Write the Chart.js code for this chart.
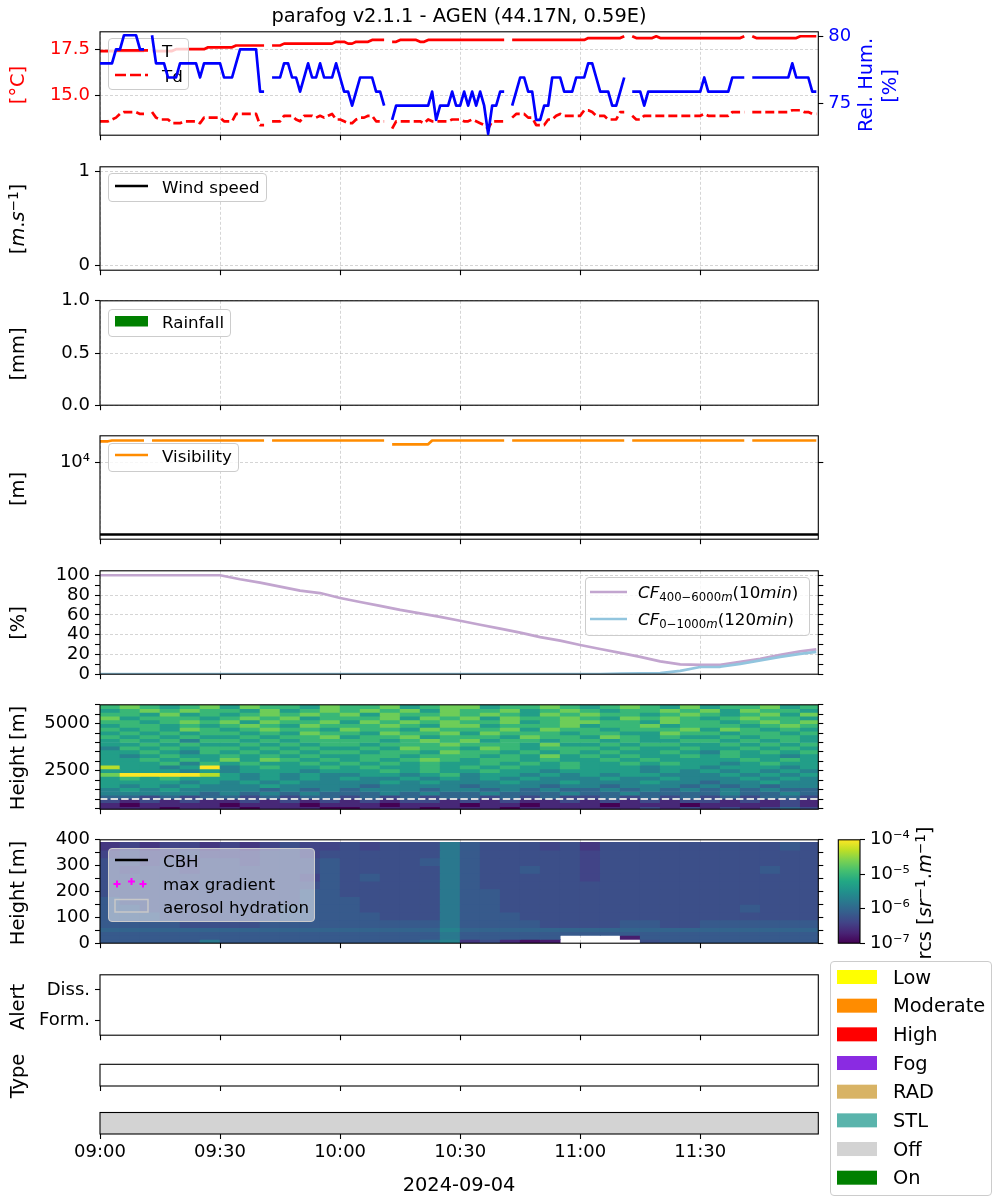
<!DOCTYPE html>
<html>
<head>
<meta charset="utf-8">
<title>parafog v2.1.1 - AGEN</title>
<script src="https://cdn.jsdelivr.net/npm/chart.js@4.4.1/dist/chart.umd.min.js"></script>
<style>
html,body{margin:0;padding:0;background:#fff;}
#wrap{position:relative;width:1000px;height:1200px;overflow:hidden;font-family:'DejaVu Sans',sans-serif;color:#000;background:#fff;}
#wrap canvas{position:absolute;z-index:1;}
.t{position:absolute;white-space:nowrap;line-height:1;}
.box{position:absolute;box-sizing:border-box;border:1px solid #cccccc;border-radius:4px;z-index:2;}
#samples{position:absolute;left:0;top:0;z-index:3;pointer-events:none;}
sup{font-size:70%;vertical-align:0.45em;line-height:0;}
sub{font-size:70%;vertical-align:-0.25em;line-height:0;}
</style>
</head>
<body>
<div id="wrap"></div>
<script>
// ================= DATA =================
const titleText = 'parafog v2.1.1 - AGEN (44.17N, 0.59E)';
const dateLabel = '2024-09-04';
// time axis in minutes after 09:00, one observation per minute
const obsStepMin = 1;
const xMaxMin = 179.5;
const xTickVals = [0, 30, 60, 90, 120, 150];
const xTickLabels = ['09:00', '09:30', '10:00', '10:30', '11:00', '11:30'];

const tempC = [
17.4,17.4,17.4,17.4,17.4,17.4,17.4,17.4,17.4,17.4,
17.4,17.4,null,17.4,17.4,17.4,17.4,17.4,17.4,17.5,
17.5,17.5,17.5,17.5,17.5,17.5,17.5,17.6,17.6,17.6,
17.6,17.6,17.6,17.6,17.7,17.7,17.7,17.7,17.7,17.7,
17.7,17.7,null,17.7,17.7,17.7,17.8,17.8,17.8,17.8,
17.8,17.8,17.8,17.8,17.8,17.8,17.8,17.8,17.8,17.9,
17.9,17.9,17.8,17.8,17.9,17.9,17.9,17.9,18.0,18.0,
18.0,18.0,null,17.9,17.9,18.0,18.0,18.0,18.0,18.0,
17.9,17.9,18.0,18.0,18.0,18.0,18.0,18.0,18.0,18.0,
18.0,18.0,18.0,18.0,18.0,18.0,18.0,18.0,18.0,18.0,
18.0,18.0,null,18.0,18.0,18.0,18.0,18.0,18.0,18.0,
18.0,18.0,18.0,18.0,18.0,18.0,18.0,18.0,18.0,18.0,
18.0,18.0,18.1,18.1,18.1,18.1,18.1,18.1,18.1,18.1,
18.1,18.2,null,18.2,18.1,18.1,18.1,18.1,18.1,18.2,
18.1,18.1,18.1,18.1,18.1,18.1,18.1,18.1,18.1,18.1,
18.1,18.1,18.1,18.1,18.1,18.1,18.1,18.1,18.1,18.1,
18.1,18.2,null,18.2,18.1,18.1,18.1,18.1,18.1,18.1,
18.1,18.1,18.1,18.1,18.1,18.2,18.2,18.2,18.2,18.2];

const dewC = [
13.6,13.6,13.6,13.7,13.8,14.0,14.1,14.1,14.1,14.1,
14.0,14.0,null,14.1,13.8,13.7,13.7,13.7,13.5,13.5,
13.5,13.6,13.6,13.6,13.6,13.5,13.8,13.8,13.8,13.8,
13.8,13.6,13.6,13.6,14.0,14.0,14.0,14.0,14.0,14.0,
13.4,13.4,null,13.6,13.6,13.6,13.9,13.9,13.9,13.7,
13.6,13.9,13.9,13.9,13.8,13.9,13.8,13.9,14.0,13.7,
13.7,13.6,13.5,13.5,13.7,13.8,13.8,13.9,13.9,13.6,
13.6,13.6,null,13.2,13.6,13.6,13.6,13.6,13.6,13.6,
13.6,13.5,13.7,13.6,13.6,13.6,13.6,13.6,13.7,13.7,
13.7,13.6,13.6,13.7,13.6,13.5,13.4,13.2,13.6,13.6,
13.6,13.6,null,13.8,14.0,14.0,14.0,13.8,13.8,13.4,
13.4,13.4,13.7,13.7,13.9,14.0,13.9,13.9,13.9,13.9,
13.9,14.2,14.2,14.1,13.9,13.9,13.9,13.7,13.7,13.7,
14.1,14.1,null,13.9,13.7,13.7,13.9,13.9,13.9,13.9,
13.9,13.9,13.9,13.9,13.9,13.9,13.9,13.9,13.9,13.9,
13.9,14.0,13.9,13.9,13.9,13.9,13.9,13.9,14.1,14.1,
14.1,14.1,null,14.1,14.1,14.1,14.1,14.1,14.1,14.1,
14.1,14.1,14.1,14.2,14.2,14.2,14.1,14.1,14.0,14.0];

const relHum = [
78,78,78,78,79,79,80,80,80,80,
79,79,null,80,78,78,78,77,77,77,
78,78,78,78,78,77,78,78,78,78,
78,77,77,77,78,79,79,79,79,79,
76,76,null,77,77,77,78,78,77,77,
76,77,78,77,77,78,77,77,77,78,
77,76,76,75,76,77,77,77,77,76,
76,75,null,74,75,75,75,75,75,75,
75,75,75,76,74,75,75,75,76,75,
75,76,75,76,75,76,75,73,75,75,
76,76,null,75,76,77,77,76,76,74,
74,75,75,77,77,77,76,76,76,77,
77,77,78,78,77,76,76,76,75,75,
76,77,null,76,76,76,75,76,76,76,
76,76,76,76,76,76,76,76,76,76,
76,77,76,76,76,76,76,76,77,77,
77,77,null,77,77,77,77,77,77,77,
77,77,77,78,77,77,77,77,76,76];

const tempTickVals = [15, 17.5];
const tempTickLabels = ['15.0', '17.5'];
const rhTickVals = [75, 80];
const rhTickLabels = ['75', '80'];

const windSpeed = [];          // no wind data in the period
const windTickVals = [0, 1];
const windTickLabels = ['0', '1'];

const rainfall = [];           // no rain in the period
const rainTickVals = [0, 0.5, 1];
const rainTickLabels = ['0.0', '0.5', '1.0'];

const visibility = [
19500,19500,19500,20000,20000,20000,20000,20000,20000,20000,
20000,20000,null,20000,20000,20000,20000,20000,20000,20000,
20000,20000,20000,20000,20000,20000,20000,20000,20000,20000,
20000,20000,20000,20000,20000,20000,20000,20000,20000,20000,
20000,20000,null,20000,20000,20000,20000,20000,20000,20000,
20000,20000,20000,20000,20000,20000,20000,20000,20000,20000,
20000,20000,20000,20000,20000,20000,20000,20000,20000,20000,
20000,20000,null,17700,17700,17700,17700,17700,17700,17700,
17700,17700,17700,20000,20000,20000,20000,20000,20000,20000,
20000,20000,20000,20000,20000,20000,20000,20000,20000,20000,
20000,20000,null,20000,20000,20000,20000,20000,20000,20000,
20000,20000,20000,20000,20000,20000,20000,20000,20000,20000,
20000,20000,20000,20000,20000,20000,20000,20000,20000,20000,
20000,20000,null,20000,20000,20000,20000,20000,20000,20000,
20000,20000,20000,20000,20000,20000,20000,20000,20000,20000,
20000,20000,20000,20000,20000,20000,20000,20000,20000,20000,
20000,20000,null,20000,20000,20000,20000,20000,20000,20000,
20000,20000,20000,20000,20000,20000,20000,20000,20000,20000];
const visThreshold = 1000;
const visTickVals = [10000];
const visTickLabels = ['10\u2074'];

const cfTimes = [0,5,10,15,20,25,30,35,40,45,50,55,60,65,70,75,80,85,90,95,100,105,110,115,120,125,130,135,140,145,150,155,160,165,170,175,179];
const cfHigh  = [100,100,100,100,100,100,100,96,92.5,88.5,84.5,82,77,73,69,65,61.5,58,54,50,46,42,37.5,34,29.5,25.5,21.5,17.5,13,10,9.5,9.5,12.5,15.5,19.5,23,25];
const cfLow   = [0,0,0,0,0,0,0,0,0,0,0,0,0,0,0,0,0,0,0,0,0,0,0,0,0,0,0.5,0.8,1,3.4,7.3,7.5,10.5,14,17.5,20.5,22.5];
const cfTickVals = [0,10,20,30,40,50,60,70,80,90,100];
const cfLabelVals = [0,20,40,60,80,100];
const cfTickLabels = ['0','20','40','60','80','100'];

// backscatter (rcs) grids: one character per 5-minute column, level 0..1 of log10(rcs) between 1e-7 and 1e-4
// digits: level = d/9 ; letters: level = (letter - 'a')/25 ; '.' = no data
const heatColStart = [0,5,10,15,20,25,30,35,40,45,50,55,60,65,70,75,80,85,90,95,100,105,110,115,120,125,130,135,140,145,150,155,160,165,170,175];
const heatColWidth = 5;
const upperRowEdges = [6000,5800,5600,5400,5200,5000,4800,4600,4400,4200,4000,3800,3600,3400,3200,3000,2800,2600,2400,2200,2000,1800,1600,1400,1200,1000,800,600,400];
const upperLevels = [
'676567 576657 667567 756676 567657 566756',
'567676 657567 676757 667567 656676 757665',
'665756 567676 757667 676576 766567 656757',
'756665 676756 667576 757667 657676 567665',
'665676 757667 576767 667567 766576 656767',
'566565 676576 667657 756667 566756 665676',
'656576 567665 766576 667576 656667 576565',
'565656 656576 657667 576665 665576 656656',
'656565 565667 566756 665766 576565 565665',
'565646 656566 665676 756656 656556 656565',
'556565 565656 656667 666575 565665 565656',
'465656 656565 565766 576566 656556 556565',
'556546 565656 656657 665656 565565 465656',
'545655 656565 566566 656575 656556 565545',
'556565 757656 565676 566565 565655 556565',
'555646 565565 656565 565656 556565 545655',
'855459 456556 565565 656556 555455 455545',
'555545 455545 556565 565545 555454 545454',
'799998 545454 455456 455454 545544 454545',
'565655 545454 544545 454544 454454 445454',
'555545 454544 445454 445445 444544 344544',
'545454 445444 434444 344434 434443 434344',
'454544 443434 344434 434343 343434 343433',
'444443 434343 334343 343334 334333 343343',
'332323 323233 232323 323232 232323 232332',
'212121 121212 121221 212112 121212 212121',
'101111 011101 110111 011011 101110 111121',
'111011 101110 011101 110111 111212 121232'];
const upperTickVals = [500,1000,1500,2000,2500,3000,3500,4000,4500,5000,5500,6000];
const upperLabelVals = [2500, 5000];
const upperTickLabels = ['2500', '5000'];
const cfLowTopHeight = 1000;   // dashed line: top of the 0-1000 m cloud-fraction layer

const lowerRowEdges = [390,360,330,300,270,240,210,180,150,120,90,60,45,30,15,0];
const lowerLevels = [
'efeffe fefgff gfgggk hgggfg eggggg gggghg',
'fgffgf ffggfg gggggk hggggg fggggg gggggg',
'ggfgfg gfgggh gggghk hggggg fggggg gggggg',
'gfggfg gggggh gggggk hgghgg fggggg ggghgg',
'gggggg ggggfh ghgggk hggggg fggggg gggggg',
'gggggg gggggh gggggk hggggg gggggg gggggg',
'gggggg gggghh gggggk hhgggg gggggg gggggg',
'hggggg gggghh hggggk hhgggg gggggg gggggg',
'hhgggg ggghhh hggggk hhgggg gggggg gghggg',
'hhhggg ggghhh hhgggk hhhggg gggggg gggggg',
'hhhhgg gghhhh hhhhhk hhhhgg gghhgg hhhhhh',
'iiiiii iiiiii iiiiil iiiiii iiiiii iiiiii',
'hhhhhh hhhhhh hhhhhk hhhhhh hhhhhh hhhhhh',
'hhhhhh hhhhhh hhhhhk hhhhh. ..chhh hhhhhh',
'hhhhhk hhhhhh hhhhjl egdbc. ...ghh hhhhhh'];
const lowerTickVals = [0,50,100,150,200,250,300,350,400];
const lowerLabelVals = [0,100,200,300,400];
const lowerTickLabels = ['0','100','200','300','400'];

const rcsMin = 1e-7, rcsMax = 1e-4;
const cbTickVals = [1e-7, 1e-6, 1e-5, 1e-4];
const cbTickLabels = ['10\u207B\u2077', '10\u207B\u2076', '10\u207B\u2075', '10\u207B\u2074'];

const alertTickVals = [0, 1];
const alertTickLabels = ['Form.', 'Diss.'];

const statusStart = [0];
const statusEnd = [179.5];
const statusState = ['Off'];

const classNames = ['Low', 'Moderate', 'High', 'Fog', 'RAD', 'STL', 'Off', 'On'];

// ================= STYLE =================
const classColors = {Low:'#ffff00', Moderate:'#ff8c00', High:'#ff0000', Fog:'#8a2be2', RAD:'#d8b365', STL:'#5ab4ac', Off:'#d3d3d3', On:'#008000'};
const VIR = ['#440154','#482475','#414487','#355f8d','#2a788e','#21918c','#22a884','#44bf70','#7ad151','#bddf26','#fde725'];
const GRID = 'rgba(176,176,176,0.6)';
const DASH = [3, 2];
const FONT = "'DejaVu Sans', sans-serif";
const PLOT_L = 100, PLOT_R = 818.3, W = 1000;
const RIGHT_W = W - PLOT_R;

Chart.defaults.font.family = FONT;
Chart.defaults.font.size = 18;
Chart.defaults.color = '#000';

const wrap = document.getElementById('wrap');

function hexRgb(h){ return [parseInt(h.slice(1,3),16), parseInt(h.slice(3,5),16), parseInt(h.slice(5,7),16)]; }
function viridis(t){
  t = Math.max(0, Math.min(1, t));
  const p = t * 10, i = Math.min(9, Math.floor(p)), f = p - i;
  const a = hexRgb(VIR[i]), b = hexRgb(VIR[i+1]);
  return 'rgb(' + a.map((v,k) => Math.round(v + (b[k]-v)*f)).join(',') + ')';
}
function rcsOf(ch){
  let lev;
  if (ch === '.') return null;
  if (ch >= '0' && ch <= '9') lev = (+ch) / 9; else lev = (ch.charCodeAt(0) - 97) / 25;
  return Math.pow(10, Math.log10(rcsMin) + lev * (Math.log10(rcsMax) - Math.log10(rcsMin)));
}
function rcsColor(v){ return viridis((Math.log10(v) - Math.log10(rcsMin)) / (Math.log10(rcsMax) - Math.log10(rcsMin))); }

const pts = arr => arr.map((v, i) => ({x: i * obsStepMin, y: v}));

// ---------- canvases ----------
function makeCanvas(top, H, padB, left = 0, width = W){
  const padT = 14;
  const cTop = Math.floor(top) - padT;
  const padTop = top - cTop;
  const cH = Math.ceil(padTop + H + padB);
  const padBottom = cH - padTop - H;
  const cv = document.createElement('canvas');
  cv.width = width; cv.height = cH;
  cv.style.left = left + 'px'; cv.style.top = cTop + 'px';
  cv.style.width = width + 'px'; cv.style.height = cH + 'px';
  wrap.appendChild(cv);
  return {cv, padTop, padBottom};
}

const framePlugin = {id:'frame', afterDraw(c){
  const a = c.chartArea, x = c.ctx;
  x.save(); x.strokeStyle = '#000'; x.lineWidth = 1.1;
  x.strokeRect(a.left, a.top, a.right - a.left, a.bottom - a.top); x.restore();
}};

function baseOptions(pad){
  return {responsive:false, animation:false, events:[], layout:{padding:pad},
          plugins:{legend:{display:false}, tooltip:{enabled:false}}};
}

function xAxis(padBottom, showLabels, showGrid, z){
  return {
    type:'linear', position:'bottom', min:0, max:xMaxMin, offset:false, z: z || 0,
    afterBuildTicks: s => { s.ticks = xTickVals.map(v => ({value:v})); },
    afterFit: s => { s.height = padBottom; },
    ticks:{display:showLabels, autoSkip:false, maxRotation:0, minRotation:0, padding:3, font:{size:18},
           callback: v => xTickLabels[xTickVals.indexOf(v)]},
    grid:{display:true, offset:false, drawOnChartArea:showGrid, color:GRID, lineWidth:0.9,
          drawTicks:true, tickLength:5, tickColor:'#000', tickWidth:1.1},
    border:{display:false, dash:DASH}
  };
}

function yAxis(o){
  const lv = o.labelVals || [], lb = o.labels || [], gv = o.gridVals || [];
  return {
    type:o.type || 'linear', position:o.pos || 'left', min:o.min, max:o.max, z: o.z || 0,
    afterBuildTicks: s => { s.ticks = o.ticks.map(v => ({value:v})); },
    afterFit: s => { s.width = o.width; },
    ticks:{display:true, autoSkip:false, padding:5, color:o.color || '#000', font:{size:18},
           callback: v => { const i = lv.indexOf(v); return i >= 0 ? lb[i] : ''; }},
    grid:{display:true, drawOnChartArea: gv.length > 0,
          color: ctx => (ctx.tick && gv.indexOf(ctx.tick.value) >= 0) ? GRID : 'rgba(0,0,0,0)',
          lineWidth:0.9, drawTicks:true, tickLength:5, tickColor:'#000', tickWidth:1.1},
    border:{display:false, dash:DASH}
  };
}

const lineDs = (data, color, extra) => Object.assign({type:'line', data, borderColor:color, borderWidth:2.7,
  pointRadius:0, tension:0, spanGaps:false, borderJoinStyle:'round', clip:0}, extra || {});

// ---------- panel geometry ----------
const P = {
  met:  [30.3, 108.5], wind: [165, 108.5], rain: [299.7, 108.5], vis: [434.4, 108.5],
  cf:   [569.1, 108.5], hi:  [703.8, 108.5], lo:  [838.5, 108.5],
  alert:[973.3, 64.8], type:[1064.3, 21.7], stat:[1112.5, 21.5]
};

// 1) T / Td / RH
let g = makeCanvas(P.met[0], P.met[1], 12);
new Chart(g.cv, {type:'line',
  data:{datasets:[
    lineDs(pts(tempC), '#ff0000', {yAxisID:'y', order:1}),
    lineDs(pts(dewC), '#ff0000', {yAxisID:'y', borderDash:[9,4], order:0})]},
  options:Object.assign(baseOptions({top:g.padTop, bottom:0, left:0, right:0}), {scales:{
    x: xAxis(g.padBottom, false, true),
    y: yAxis({min:12.85, max:18.44, ticks:tempTickVals, labelVals:tempTickVals, labels:tempTickLabels, gridVals:tempTickVals, color:'#ff0000', width:PLOT_L}),
    y2: yAxis({pos:'right', min:72.65, max:80.35, ticks:rhTickVals, labelVals:rhTickVals, labels:rhTickLabels, color:'#0000ff', width:RIGHT_W})
  }}), plugins:[framePlugin]});

// 2) wind
g = makeCanvas(P.wind[0], P.wind[1], 12);
new Chart(g.cv, {type:'line',
  data:{datasets:[lineDs(pts(windSpeed), '#000000')]},
  options:Object.assign(baseOptions({top:g.padTop, bottom:0, left:0, right:RIGHT_W}), {scales:{
    x: xAxis(g.padBottom, false, true),
    y: yAxis({min:-0.05, max:1.05, ticks:windTickVals, labelVals:windTickVals, labels:windTickLabels, gridVals:windTickVals, width:PLOT_L})
  }}), plugins:[framePlugin]});

// 3) rainfall
g = makeCanvas(P.rain[0], P.rain[1], 12);
new Chart(g.cv, {type:'bar',
  data:{datasets:[{data:pts(rainfall), backgroundColor:'#008000'}]},
  options:Object.assign(baseOptions({top:g.padTop, bottom:0, left:0, right:RIGHT_W}), {scales:{
    x: xAxis(g.padBottom, false, true),
    y: yAxis({min:0, max:1, ticks:rainTickVals, labelVals:rainTickVals, labels:rainTickLabels, gridVals:rainTickVals, width:PLOT_L})
  }}), plugins:[framePlugin]});

// 4) visibility
g = makeCanvas(P.vis[0], P.vis[1], 12);
new Chart(g.cv, {type:'line',
  data:{datasets:[
    lineDs(pts(visibility), '#ff8c00', {order:1}),
    lineDs([{x:0, y:visThreshold}, {x:xMaxMin, y:visThreshold}], '#000000', {order:0})]},
  options:Object.assign(baseOptions({top:g.padTop, bottom:0, left:0, right:0}), {scales:{
    x: xAxis(g.padBottom, false, true),
    y: yAxis({type:'logarithmic', min:861, max:23230, ticks:visTickVals, labelVals:visTickVals, labels:visTickLabels, gridVals:visTickVals, width:PLOT_L}),
    y2: yAxis({type:'logarithmic', pos:'right', min:861, max:23230, ticks:visTickVals, width:RIGHT_W})
  }}), plugins:[framePlugin]});

// 5) cloud fraction
g = makeCanvas(P.cf[0], P.cf[1], 12);
new Chart(g.cv, {type:'line',
  data:{datasets:[
    lineDs(cfTimes.map((t,i) => ({x:t, y:cfHigh[i]})), '#c2a5cf', {order:1}),
    lineDs(cfTimes.map((t,i) => ({x:t, y:cfLow[i]})), '#92c5de', {order:0})]},
  options:Object.assign(baseOptions({top:g.padTop, bottom:0, left:0, right:0}), {scales:{
    x: xAxis(g.padBottom, false, true),
    y: yAxis({min:0, max:104.5, ticks:cfTickVals, labelVals:cfLabelVals, labels:cfTickLabels, gridVals:[20,40,60,80,100], width:PLOT_L}),
    y2: yAxis({pos:'right', min:0, max:104.5, ticks:cfTickVals, width:RIGHT_W})
  }}), plugins:[framePlugin]});

// heatmap datasets (one floating-bar dataset per height row)
function heatDatasets(rowEdges, levelRows){
  return levelRows.map((row, r) => {
    const s = row.replace(/ /g, '');
    const top = rowEdges[r], bot = rowEdges[r+1];
    const data = [], colors = [];
    heatColStart.forEach((c, j) => {
      const v = rcsOf(s[j]);
      data.push({x: c + heatColWidth / 2, y: v === null ? null : [bot, top]});
      colors.push(v === null ? 'rgba(0,0,0,0)' : rcsColor(v));
    });
    return {type:'bar', data, backgroundColor:colors, borderWidth:0, grouped:false,
            barPercentage:1, categoryPercentage:1, order:5};
  });
}

// 6) backscatter 0-6000 m
g = makeCanvas(P.hi[0], P.hi[1], 12);
new Chart(g.cv, {type:'bar',
  data:{datasets: heatDatasets(upperRowEdges, upperLevels).concat([
    lineDs([{x:0, y:cfLowTopHeight}, {x:xMaxMin, y:cfLowTopHeight}], 'rgba(225,225,225,0.95)', {borderWidth:2, borderDash:[7.4,3.2], order:0})])},
  options:Object.assign(baseOptions({top:g.padTop, bottom:0, left:0, right:0}), {scales:{
    x: xAxis(g.padBottom, false, true, 1),
    y: yAxis({min:460, max:6000, ticks:upperTickVals, labelVals:upperLabelVals, labels:upperTickLabels, gridVals:upperLabelVals, width:PLOT_L, z:1}),
    y2: yAxis({pos:'right', min:460, max:6000, ticks:upperTickVals, width:RIGHT_W, z:1})
  }}), plugins:[framePlugin]});

// 7) backscatter 0-400 m
g = makeCanvas(P.lo[0], P.lo[1], 12);
new Chart(g.cv, {type:'bar',
  data:{datasets: heatDatasets(lowerRowEdges, lowerLevels)},
  options:Object.assign(baseOptions({top:g.padTop, bottom:0, left:0, right:0}), {scales:{
    x: xAxis(g.padBottom, false, true, 1),
    y: yAxis({min:0, max:400, ticks:lowerTickVals, labelVals:lowerLabelVals, labels:lowerTickLabels, gridVals:[100,200,300], width:PLOT_L, z:1}),
    y2: yAxis({pos:'right', min:0, max:400, ticks:lowerTickVals, width:RIGHT_W, z:1})
  }}), plugins:[framePlugin]});

// colorbar
g = makeCanvas(P.lo[0], P.lo[1], 12, 800, 200);
const cbPlugin = {id:'cb', beforeDatasetsDraw(c){
  const a = c.chartArea, x = c.ctx;
  const gr = x.createLinearGradient(0, a.bottom, 0, a.top);
  VIR.forEach((col, i) => gr.addColorStop(i / (VIR.length - 1), col));
  x.save(); x.fillStyle = gr; x.fillRect(a.left, a.top, a.right - a.left, a.bottom - a.top); x.restore();
}};
new Chart(g.cv, {type:'scatter', data:{datasets:[]},
  options:Object.assign(baseOptions({top:g.padTop, bottom:g.padBottom, left:838.3 - 800, right:0}), {scales:{
    x: {type:'linear', display:false, min:0, max:1},
    y: yAxis({type:'logarithmic', pos:'right', min:rcsMin, max:rcsMax, ticks:cbTickVals, labelVals:cbTickVals, labels:cbTickLabels, width:200 - 60})
  }}), plugins:[cbPlugin, framePlugin]});

// 8) alert
g = makeCanvas(P.alert[0], P.alert[1], 12);
new Chart(g.cv, {type:'line', data:{datasets:[]},
  options:Object.assign(baseOptions({top:g.padTop, bottom:0, left:0, right:RIGHT_W}), {scales:{
    x: xAxis(g.padBottom, false, false),
    y: yAxis({min:-0.5, max:1.5, ticks:alertTickVals, labelVals:alertTickVals, labels:alertTickLabels, width:PLOT_L})
  }}), plugins:[framePlugin]});

// 9) type
g = makeCanvas(P.type[0], P.type[1], 12);
new Chart(g.cv, {type:'line', data:{datasets:[]},
  options:Object.assign(baseOptions({top:g.padTop, bottom:0, left:PLOT_L, right:RIGHT_W}), {scales:{
    x: xAxis(g.padBottom, false, false),
    y: {type:'linear', display:false, min:0, max:1}
  }}), plugins:[framePlugin]});

// 10) status bar
g = makeCanvas(P.stat[0], P.stat[1], 60);
new Chart(g.cv, {type:'bar',
  data:{labels:['status'], datasets:[{
    data: statusStart.map((s, i) => ({x:[s, statusEnd[i]], y:'status'})),
    backgroundColor: statusState.map(s => classColors[s]), borderWidth:0,
    barPercentage:1, categoryPercentage:1}]},
  options:Object.assign(baseOptions({top:g.padTop, bottom:0, left:PLOT_L, right:RIGHT_W}), {indexAxis:'y', scales:{
    x: xAxis(g.padBottom, true, false),
    y: {type:'category', display:false}
  }}), plugins:[framePlugin]});

// ================= text, legends =================
function addText(html, x, y, o){
  o = o || {};
  const d = document.createElement('div');
  d.className = 't';
  d.innerHTML = html;
  const size = o.size || 18;
  d.style.fontSize = size + 'px';
  d.style.color = o.color || '#000';
  d.style.zIndex = o.z || 4;
  d.style.left = x + 'px';
  if (o.align === 'left') {
    d.style.top = (y - size / 2) + 'px';
  } else {
    d.style.top = y + 'px';
    d.style.transform = 'translate(-50%,-50%)' + (o.rot ? ' rotate(-90deg)' : '');
  }
  wrap.appendChild(d);
}
function addBox(x, y, w, h, alpha){
  const d = document.createElement('div');
  d.className = 'box';
  Object.assign(d.style, {left:x+'px', top:y+'px', width:w+'px', height:h+'px', background:'rgba(255,255,255,' + alpha + ')'});
  wrap.appendChild(d);
}
const svgNS = 'http://www.w3.org/2000/svg';
const svg = document.createElementNS(svgNS, 'svg');
svg.setAttribute('width', W); svg.setAttribute('height', 1200); svg.id = 'samples';
wrap.appendChild(svg);
function svgEl(tag, attrs){ const e = document.createElementNS(svgNS, tag); for (const k in attrs) e.setAttribute(k, attrs[k]); svg.appendChild(e); return e; }
function sampleLine(x1, x2, y, color, dash){ svgEl('line', {x1, x2, y1:y, y2:y, stroke:color, 'stroke-width':2.7, 'stroke-dasharray': dash || 'none'}); }

const AX = 19.4, LEG = 16.7;
addText(titleText, 459, 16, {size:19.4});
addText(dateLabel, 459, 1185, {size:AX});

// y-axis labels
addText('[\u00B0C]', 17.5, 84.5, {size:AX, rot:true, color:'#ff0000'});
addText('Rel. Hum.', 866, 85, {size:AX, rot:true, color:'#0000ff'});
addText('[%]', 890, 86, {size:AX, rot:true, color:'#0000ff'});
addText('[<i>m</i>.<i>s</i><sup>\u22121</sup>]', 17.5, 219, {size:AX, rot:true});
addText('[mm]', 17.5, 354, {size:AX, rot:true});
addText('[m]', 17.5, 488.6, {size:AX, rot:true});
addText('[%]', 17.5, 623.4, {size:AX, rot:true});
addText('Height [m]', 17.5, 758, {size:AX, rot:true});
addText('Height [m]', 17.5, 892.8, {size:AX, rot:true});
addText('Alert', 17.5, 1006.5, {size:AX, rot:true});
addText('Type', 17.5, 1075.5, {size:AX, rot:true});
addText('rcs [<i>sr</i><sup>\u22121</sup>.<i>m</i><sup>\u22121</sup>]', 925, 893, {size:AX, rot:true});

// legend: T / Td
addBox(108, 38, 81, 52, 0.8);
sampleLine(115, 148, 50.3, '#ff0000');
sampleLine(115, 148, 75, '#ff0000', '11,4');
addText('T', 162, 51, {size:LEG, align:'left', z:3});
addText('Td', 162, 76, {size:LEG, align:'left', z:3});

// legend: wind
addBox(108, 173, 159, 29, 0.8);
sampleLine(115, 148, 186, '#000000');
addText('Wind speed', 162, 187, {size:LEG, align:'left', z:3});

// legend: rainfall
addBox(108, 309, 123, 28, 0.8);
svgEl('rect', {x:115, y:316, width:33, height:10.5, fill:'#008000'});
addText('Rainfall', 162, 322, {size:LEG, align:'left', z:3});

// legend: visibility
addBox(108, 443, 131, 29, 0.8);
sampleLine(115, 148, 455, '#ff8c00');
addText('Visibility', 162, 456, {size:LEG, align:'left', z:3});

// legend: cloud fraction
addBox(585, 577, 225, 59, 0.8);
sampleLine(590, 627, 592, '#c2a5cf');
sampleLine(590, 627, 619, '#92c5de');
addText('<i>CF</i><sub>400\u22126000<i>m</i></sub>(10<i>min</i>)', 638, 592, {size:LEG, align:'left', z:3});
addText('<i>CF</i><sub>0\u22121000<i>m</i></sub>(120<i>min</i>)', 638, 619, {size:LEG, align:'left', z:3});

// legend: low heatmap
addBox(108, 848, 207, 74, 0.5);
sampleLine(115, 148, 860, '#000000');
[[117, 884], [131.5, 881.5], [143, 884]].forEach(([cx, cy]) => {
  svgEl('line', {x1:cx-3.5, x2:cx+3.5, y1:cy, y2:cy, stroke:'#ff00ff', 'stroke-width':2});
  svgEl('line', {x1:cx, x2:cx, y1:cy-3.5, y2:cy+3.5, stroke:'#ff00ff', 'stroke-width':2});
});
svgEl('rect', {x:115, y:899.5, width:33, height:12.5, fill:'none', stroke:'#c8c8c8', 'stroke-width':1.5});
addText('CBH', 163, 861, {size:LEG, align:'left', z:3});
addText('max gradient', 163, 884.5, {size:LEG, align:'left', z:3});
addText('aerosol hydration', 163, 907, {size:LEG, align:'left', z:3});

// legend: classes
addBox(830, 961, 162, 235, 0.8);
classNames.forEach((n, i) => {
  const cy = 977 + i * 28.67;
  svgEl('rect', {x:837, y:cy - 7, width:40, height:14, fill:classColors[n]});
  addText(n, 893, cy + 0.5, {size:19.4, align:'left', z:3});
});

// RH line drawn on top of the T/Td legend
g = makeCanvas(P.met[0], P.met[1], 12);
g.cv.style.zIndex = 5;
new Chart(g.cv, {type:'line',
  data:{datasets:[lineDs(pts(relHum), '#0000ff', {yAxisID:'y2', xAxisID:'x'})]},
  options:Object.assign(baseOptions({top:g.padTop, bottom:g.padBottom, left:PLOT_L, right:RIGHT_W}), {scales:{
    x: {type:'linear', display:false, min:0, max:xMaxMin},
    y2: {type:'linear', display:false, min:72.65, max:80.35}
  }})});
</script>
</body>
</html>
